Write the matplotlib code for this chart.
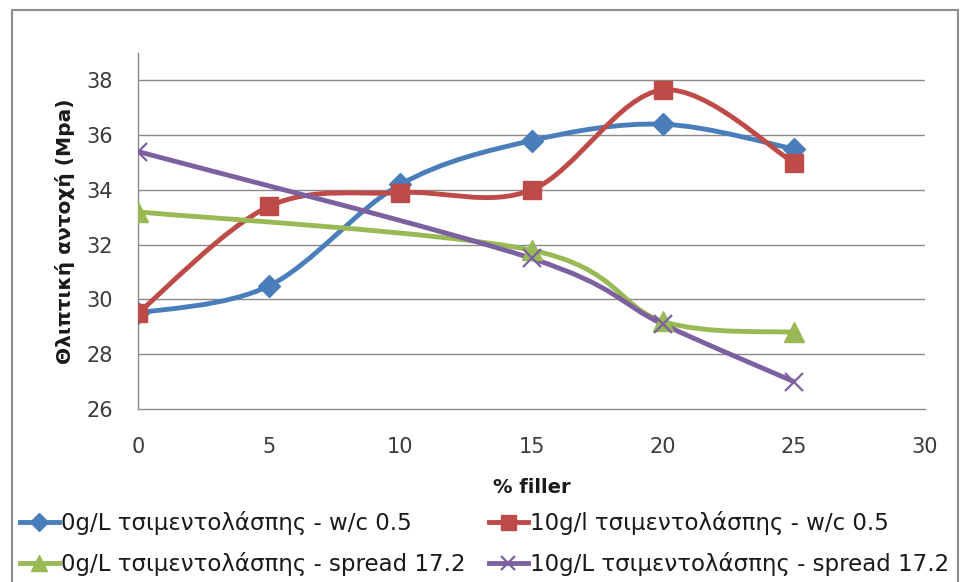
import matplotlib
matplotlib.use("Agg")
import matplotlib.pyplot as plt
from matplotlib.path import Path
from matplotlib.patches import PathPatch, Rectangle
from matplotlib.lines import Line2D

plt.rcParams['font.family'] = ['DejaVu Sans']

# ---- data ----
x_full = [0, 5, 10, 15, 20, 25]
x_part = [0, 15, 20, 25]
blue_vals = [29.5, 30.5, 34.2, 35.8, 36.4, 35.5]
red_vals = [29.5, 33.4, 33.9, 34.0, 37.65, 35.0]
green_vals = [33.2, 31.8, 29.2, 28.8]
purple_vals = [35.4, 31.5, 29.1, 27.0]

labels = [
    "0g/L τσιμεντολάσπης - w/c 0.5",
    "10g/l τσιμεντολάσπης - w/c 0.5",
    "0g/L τσιμεντολάσπης - spread 17.2",
    "10g/L τσιμεντολάσπης - spread 17.2",
]
xticks = [0, 5, 10, 15, 20, 25, 30]
yticks = [26, 28, 30, 32, 34, 36, 38]
xlabel = "% filler"
ylabel = "Θλιπτική αντοχή (Mpa)"

colors = ['#4A7EBB', '#BE4B48', '#98B954', '#7D60A0']
markers = ['D', 's', '^', 'x']
msizes = [11, 13.5, 14, 13]


def smooth_path(xs, ys):
    pts = list(zip(xs, ys))
    n = len(pts)
    verts = [pts[0]]
    codes = [Path.MOVETO]
    for i in range(n - 1):
        p0 = pts[i - 1] if i > 0 else pts[i]
        p1 = pts[i]
        p2 = pts[i + 1]
        p3 = pts[i + 2] if i + 2 < n else pts[i + 1]
        c1 = (p1[0] + (p2[0] - p0[0]) / 6.0, p1[1] + (p2[1] - p0[1]) / 6.0)
        c2 = (p2[0] - (p3[0] - p1[0]) / 6.0, p2[1] - (p3[1] - p1[1]) / 6.0)
        verts += [c1, c2, p2]
        codes += [Path.CURVE4, Path.CURVE4, Path.CURVE4]
    return Path(verts, codes)


fig = plt.figure(figsize=(9.6, 5.82), dpi=100)
fig.add_artist(Rectangle((12 / 960, -0.05), 946 / 960, 1.05 - 10 / 582,
                         transform=fig.transFigure, fill=False,
                         edgecolor='#8C8C8C', linewidth=1.5))

ax = fig.add_axes([138 / 960, 173 / 582, 787 / 960, 356 / 582])
ax.set_xlim(0, 30)
ax.set_ylim(26, 39.0)
ax.set_xticks(xticks)
ax.set_yticks(yticks)
ax.tick_params(length=0, labelsize=15, colors='#3A3A3A')
ax.tick_params(axis='y', pad=18)
ax.tick_params(axis='x', pad=20)
for t in ax.get_yticks():
    if t > 26:
        ax.axhline(t, color='#8A8A8A', linewidth=1.0, zorder=1)
for s in ['top', 'right']:
    ax.spines[s].set_visible(False)
for s in ['left', 'bottom']:
    ax.spines[s].set_color('#8A8A8A')
    ax.spines[s].set_linewidth(1.0)

series = [(x_full, blue_vals), (x_full, red_vals), (x_part, green_vals), (x_part, purple_vals)]
handles = []
for (xs, ys), c, m, ms, lab in zip(series, colors, markers, msizes, labels):
    patch = PathPatch(smooth_path(xs, ys), facecolor='none', edgecolor=c,
                      linewidth=3.5, zorder=3, capstyle='round', joinstyle='round')
    ax.add_patch(patch)
    if m == 'x':
        ax.plot(xs, ys, linestyle='none', marker=m, markersize=ms, color=c,
                markeredgewidth=1.6, zorder=4)
    else:
        ax.plot(xs, ys, linestyle='none', marker=m, markersize=ms, color=c,
                markeredgecolor=c, zorder=4)
    h = Line2D([], [], color=c, linewidth=3.5, marker=m, markersize=ms * 0.8,
               markeredgewidth=1.6 if m == 'x' else 1.0)
    handles.append(h)

ax.set_xlabel(xlabel, fontsize=14, fontweight='bold', labelpad=15, color='#1A1A1A')
ax.set_ylabel(ylabel, fontsize=14.5, fontweight='bold', labelpad=8, color='#1A1A1A')

order = [0, 2, 1, 3]
fig.legend([handles[i] for i in order], [labels[i] for i in order],
           loc='upper left', bbox_to_anchor=(20 / 960, 1 - 511 / 582),
           ncol=2, frameon=False, fontsize=16.5, handlelength=1.7,
           handletextpad=0.1, columnspacing=1.0, labelspacing=0.75,
           borderaxespad=0, borderpad=0, labelcolor='#1A1A1A')

fig.savefig("out.png", dpi=100)
